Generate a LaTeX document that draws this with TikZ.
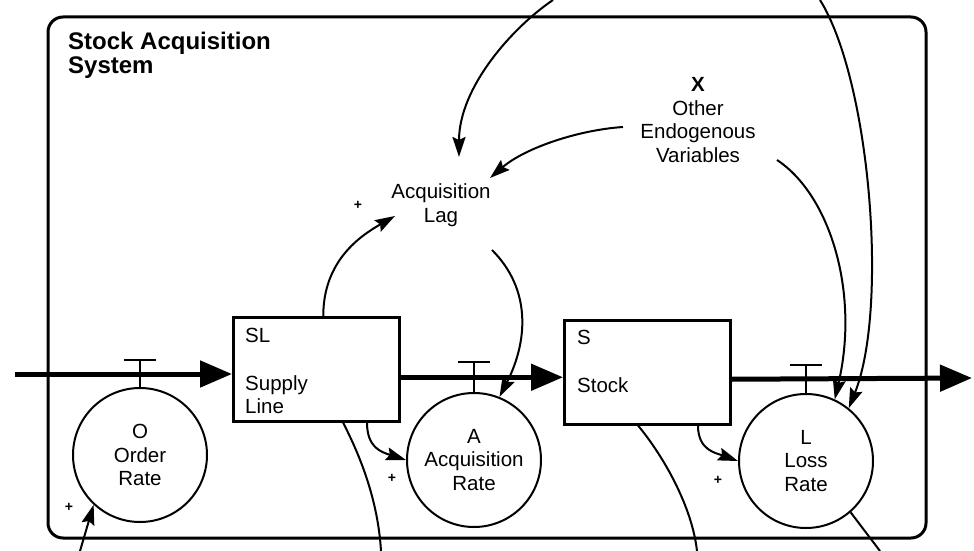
\documentclass[tikz,border=0pt]{standalone}
\usepackage{fontspec}
\setmainfont{Liberation Sans}
\usetikzlibrary{arrows.meta,positioning}

\tikzset{
  flow/.style={line width=5pt,-{Triangle[length=32pt,width=26pt]}},
  link/.style={line width=2pt,-{Stealth[length=20pt,width=13pt,inset=3pt]}},
  wire/.style={line width=2pt},
  level/.style={draw,line width=2.5pt,minimum width=166pt,minimum height=104pt,
    anchor=north west,inner sep=0pt},
  rate/.style={draw,circle,line width=2pt,minimum size=134pt,inner sep=0pt,
    align=center,font=\fontsize{20.5}{23.5}\selectfont},
  txt/.style={align=center,inner sep=0pt,font=\fontsize{20.5}{23.5}\selectfont},
  boxtxt/.style={align=left,inner sep=0pt,anchor=north west,
    font=\fontsize{20.5}{23.5}\selectfont},
  sign/.style={inner sep=0pt,font=\bfseries\fontsize{14}{14}\selectfont}
}

\begin{document}
\begin{tikzpicture}[x=1pt,y=-1pt]
        \useasboundingbox (0,0) rectangle (974,551);

        % system boundary
        \draw [line width=3pt,rounded corners=15pt]
          (48,17) rectangle (926,538)
        ;
        \node [anchor=north west,inner sep=0pt,align=left,
               font=\bfseries\fontsize{24}{23.5}\selectfont]
          (title) at (68,32) {Stock Acquisition\\System};

        % levels
        \node [level] (SL) at (232,316) {};
        \node [boxtxt] (SLname) at ([shift={(13,12)}]SL.north west) {SL};
        \node [boxtxt] (SLtext) at ([shift={(13,59)}]SL.north west) {Supply\\Line};
        \node [level] (S) at (563,319) {};
        \node [boxtxt] (Sname) at ([shift={(14,11)}]S.north west) {S};
        \node [boxtxt] (Stext) at ([shift={(14,58)}]S.north west) {Stock};

        % rates
        \node [rate] (O) at (140,455) {O\\Order\\Rate};
        \node [rate] (A) at (474,460) {A\\Acquisition\\Rate};
        \node [rate] (L) at (806,461) {L\\Loss\\Rate};

        % auxiliaries
        \node [txt] (lag) at (441,205) {Acquisition\\Lag};
        \node [txt] (X) at (698,120) {\textbf{X}\\Other\\Endogenous\\Variables};

        % free ends
        \coordinate (src) at (15,374);
        \coordinate (sink) at (972,378);
        \coordinate (topA) at (553,0);
        \coordinate (topL) at (820,0);
        \coordinate (outSL) at (381,551);
        \coordinate (inO) at (80,551);
        \coordinate (outS) at (697,551);
        \coordinate (outL) at (880,551);

        % material flow
        \draw [flow]
          (src)
          -- (src -| SL.west)
        ;
        \draw [flow]
          ([shift={(0,8)}]SL.east)
          -- ([shift={(0,5)}]S.west)
        ;
        \draw [flow]
          ([shift={(0,7)}]S.east)
          -- (sink)
        ;

        % valves
        \draw [wire] (O.north) -- ++(0,-27) ++(-16,0) -- ++(32,0);
        \draw [wire] (A.north) -- ++(0,-30) ++(-16,0) -- ++(32,0);
        \draw [wire] (L.north) -- ++(0,-28) ++(-16,0) -- ++(32,0);

        % information links
        \draw [link]
          (topA)
            .. controls +(-40,27) and +(0,-70)
          .. ([shift={(18,-48)}]lag.center)
        ;
        \draw [link]
          ([shift={(-75,7)}]X.center)
            .. controls +(-45,3) and +(35,-30)
          .. ([shift={(49,-27)}]lag.center)
        ;
        \draw [link]
          ([shift={(7,0)}]SL.north)
            .. controls +(0,-55) and +(-35,20)
          .. ([shift={(-46,11)}]lag.center)
        ;
        \draw [link]
          ([shift={(51,45)}]lag.center)
            .. controls +(40,40) and +(28,-55)
          .. (A.68)
        ;
        \draw [link]
          ([shift={(135,0)}]SL.south west)
            .. controls +(0,25) and +(-25,-8)
          .. (A.180)
        ;
        \draw [wire]
          ([shift={(111,0)}]SL.south west)
            .. controls +(18,35) and +(-3,-50)
          .. (outSL)
        ;
        \draw [link]
          (inO)
          -- (O.227)
        ;
        \draw [wire]
          ([shift={(75,0)}]S.south west)
            .. controls +(25,30) and +(-5,-45)
          .. (outS)
        ;
        \draw [link]
          ([shift={(135,0)}]S.south west)
            .. controls +(0,25) and +(-22,-8)
          .. (L.180)
        ;
        \draw [link]
          ([shift={(79,40)}]X.center)
            .. controls +(53,35) and +(25,-107)
          .. (L.65)
        ;
        \draw [link]
          (topL)
            .. controls +(50,80) and +(40,-100)
          .. (L.51)
        ;
        \draw [wire]
          (L.-49)
          -- (outL)
        ;

        % polarities
        \node [sign] (plusLag) at (358,205) {+};
        \node [sign] (plusA) at (392,478) {+};
        \node [sign] (plusL) at (718,480) {+};
        \node [sign] (plusO) at (69,507) {+};
      \end{tikzpicture}
\end{document}
